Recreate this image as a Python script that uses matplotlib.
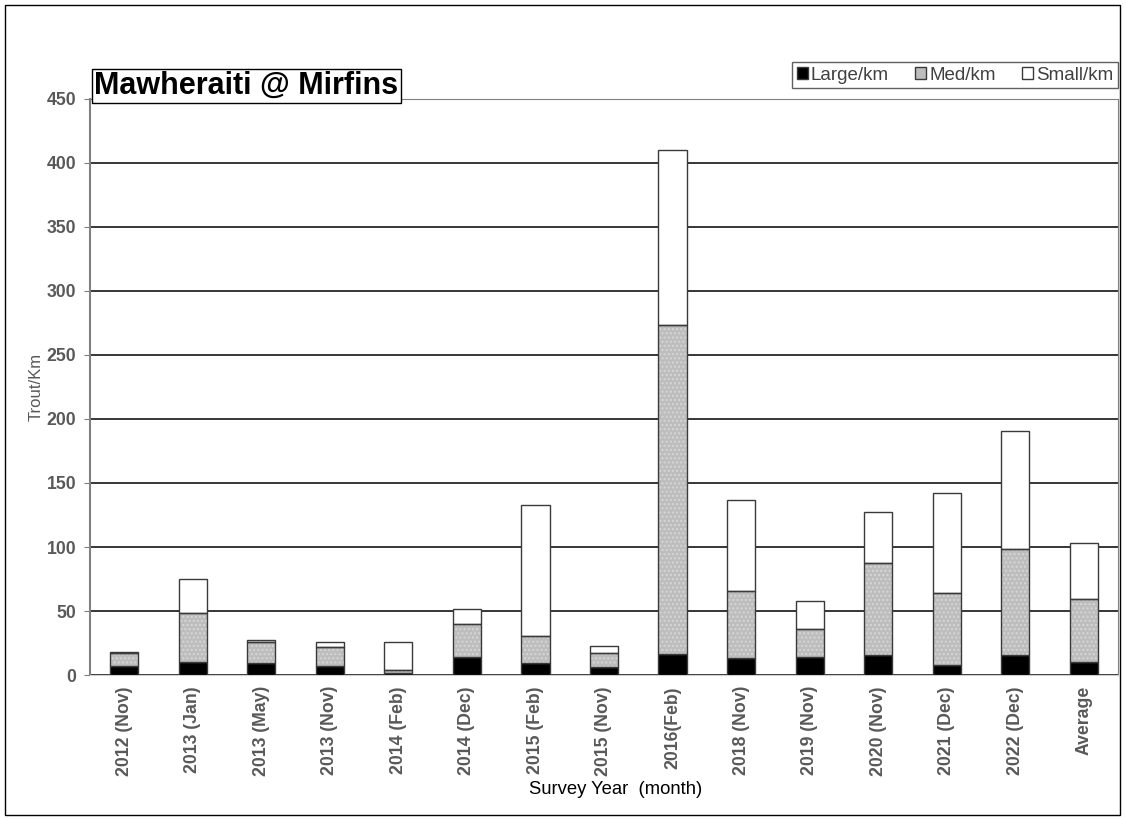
import numpy as np
import matplotlib.pyplot as plt
from matplotlib.patches import Rectangle

plt.rcParams['font.family'] = ['Liberation Sans', 'DejaVu Sans']

# survey data (trout per km)
surveys = ["2012 (Nov)", "2013 (Jan)", "2013 (May)", "2013 (Nov)", "2014 (Feb)",
           "2014 (Dec)", "2015 (Feb)", "2015 (Nov)", "2016(Feb)", "2018 (Nov)",
           "2019 (Nov)", "2020 (Nov)", "2021 (Dec)", "2022 (Dec)", "Average"]
large = [7, 10.4, 9, 7, 1.8, 14.3, 9.6, 6.5, 16.4, 13.5, 14.3, 15.4, 7.5, 15.4, 10.4]
med = [10, 37.8, 17, 14.6, 1.8, 25.3, 20.6, 10.5, 257, 52, 21.4, 71.8, 56.5, 82.8, 48.7]
small = [1, 27, 1, 4.2, 22, 11.7, 102.4, 5.4, 136.6, 71, 22.1, 40.1, 78.2, 92.7, 43.8]

large = np.array(large)
med = np.array(med)
small = np.array(small)
x = np.arange(len(surveys))
w = 0.41
edge = '#3a3a3a'
grey_txt = '#595959'

fig = plt.figure(figsize=(11.26, 8.19), dpi=100)
ax = fig.add_axes([90/1126, 1 - 675/819, (1118-90)/1126, (675-99)/819])

ax.set_axisbelow(True)
ax.yaxis.grid(True, color='black', linewidth=1.1)

ax.bar(x, large, w, color='black', edgecolor=edge, linewidth=1, zorder=3)
# med: grey fill with a faint dotted texture, then outline
ax.bar(x, med, w, bottom=large, color='#bdbdbd', edgecolor='#d6d6d6', hatch='....', linewidth=0, zorder=3)
ax.bar(x, med, w, bottom=large, fill=False, edgecolor=edge, linewidth=1, zorder=4)
ax.bar(x, small, w, bottom=large + med, color='white', edgecolor=edge, linewidth=1, zorder=3)

ax.set_xlim(-0.5, len(surveys) - 0.5)
ax.set_ylim(0, 450)
ax.set_yticks(np.arange(0, 451, 50))
ax.set_xticks(x)
ax.set_xticklabels(surveys, rotation=90, fontsize=12.7, fontweight='bold', color=grey_txt)
ax.tick_params(axis='y', labelsize=12.7, labelcolor=grey_txt, length=4, color='#808080', pad=6)
for lab in ax.get_yticklabels():
    lab.set_fontweight('bold')
ax.tick_params(axis='x', length=0, pad=8)

for s in ['top', 'right', 'left']:
    ax.spines[s].set_color('#808080')
ax.spines['bottom'].set_color('#d0d0d0')
ax.spines['left'].set_linewidth(1.5)

ax.set_ylabel('Trout/Km', fontsize=12, color=grey_txt)
ax.yaxis.set_label_coords(-0.045, 0.5)
fig.text(616/1126, 1 - 790/819, 'Survey Year  (month)', fontsize=13.3, ha='center', va='center')

# title box
fig.text(94/1126, 1 - 86/819, 'Mawheraiti @ Mirfins', fontsize=22, fontweight='bold',
         ha='left', va='center',
         bbox=dict(boxstyle='square,pad=0.08', facecolor='white', edgecolor='black', linewidth=1))

# legend
h1 = Rectangle((0, 0), 1, 1, facecolor='black', edgecolor=edge)
h2 = Rectangle((0, 0), 1, 1, facecolor='#bdbdbd', edgecolor=edge)
h3 = Rectangle((0, 0), 1, 1, facecolor='white', edgecolor=edge)
leg = fig.legend([h1, h2, h3], ['Large/km', 'Med/km', 'Small/km'], ncol=3,
                 loc='upper right', bbox_to_anchor=(1118/1126, 1 - 62/819), borderaxespad=0,
                 fontsize=13.5, handlelength=0.6, handleheight=0.6, handletextpad=0.15,
                 columnspacing=1.4, borderpad=0.25, fancybox=False, framealpha=1,
                 edgecolor='#606060', labelcolor='#404040')
leg.get_frame().set_linewidth(1)

# outer chart frame
fig.patches.append(Rectangle((5/1126, 4/819), 1115/1126, 810/819, transform=fig.transFigure,
                             fill=False, edgecolor='black', linewidth=1))

fig.savefig('out.png', dpi=100)
